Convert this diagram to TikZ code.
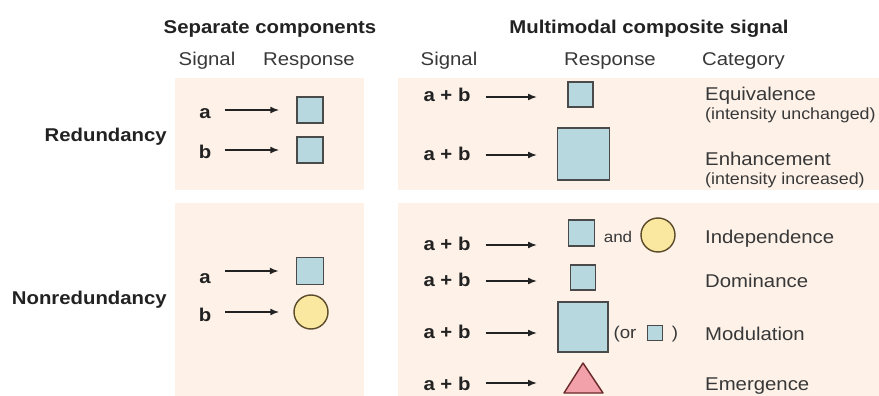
\documentclass[tikz,border=0pt]{standalone}
\usepackage{fontspec}
\setmainfont{Liberation Sans}[FakeStretch=1.1]
\usetikzlibrary{arrows.meta}
\definecolor{panel}{HTML}{FDF1E8}
\definecolor{sqfill}{HTML}{B8D8E0}
\definecolor{sqline}{HTML}{4A4A4A}
\definecolor{cfill}{HTML}{FBE8A0}
\definecolor{cline}{HTML}{5A4A2A}
\definecolor{tfill}{HTML}{F2A0AA}
\definecolor{tline}{HTML}{6A2A2A}
\definecolor{ink}{HTML}{222222}
\tikzset{
  panelbox/.style={fill=panel, draw=none},
  head/.style={font=\fontsize{18.5}{20}\selectfont\bfseries, text=ink, inner sep=0pt, anchor=base},
  colhead/.style={font=\fontsize{18.5}{20}\selectfont, text=ink!90, inner sep=0pt, anchor=base},
  rowlab/.style={font=\fontsize{18.5}{20}\selectfont\bfseries, text=ink, inner sep=0pt, anchor=base east},
  sig/.style={font=\fontsize{18.5}{20}\selectfont\bfseries, text=ink, inner sep=0pt, anchor=base},
  cat/.style={font=\fontsize{18.5}{20}\selectfont, text=ink!90, inner sep=0pt, anchor=base west},
  catsub/.style={font=\fontsize{16.2}{18}\selectfont, text=ink!90, inner sep=0pt, anchor=base west},
  small/.style={font=\fontsize{15.5}{17}\selectfont, text=ink!90, inner sep=0pt, anchor=base},
  sq/.style={draw=sqline, fill=sqfill, line width=1.4pt, inner sep=0pt, rectangle},
  circ/.style={draw=cline, fill=cfill, line width=1.4pt, inner sep=0pt, circle},
  tri/.style={draw=tline, fill=tfill, line width=1.4pt, line join=round},
  arr/.style={draw=ink, line width=1.6pt, -{Latex[length=9pt,width=7pt]}},
}
\begin{document}
\begin{tikzpicture}[x=1pt,y=-1pt]
\useasboundingbox (0,0) rectangle (879,396);
\fill[white] (0,0) rectangle (879,396);
% panels
\path[panelbox] (175,78) rectangle (364,190);
\path[panelbox] (175,203) rectangle (364,396);
\path[panelbox] (398,78) rectangle (879,190);
\path[panelbox] (398,203) rectangle (879,396);
% headings
\node[head] (hsep) at (270,34) {Separate components};
\node[head] (hmul) at (649,34) {Multimodal composite signal};
\node[colhead] (hsig1) at (207,66) {Signal};
\node[colhead] (hres1) at (309,66) {Response};
\node[colhead] (hsig2) at (449,66) {Signal};
\node[colhead] (hres2) at (610,66) {Response};
\node[colhead, anchor=base west] (hcat) at (702,66) {Category};
% row labels
\node[rowlab] (red) at (167,142) {Redundancy};
\node[rowlab] (nonred) at (167,304) {Nonredundancy};
% left panel, redundancy
\node[sig] (la1) at (205,118) {a};
\node[sig] (lb1) at (205,158) {b};
\node[sq, minimum size=26pt] (ls1) at (310,110) {};
\node[sq, minimum size=26pt] (ls2) at (310,150) {};
\draw[arr, shorten <=14pt, shorten >=17pt] (la1.east |- ls1.west) -- (ls1.west);
\draw[arr, shorten <=14pt, shorten >=17pt] (lb1.east |- ls2.west) -- (ls2.west);
% left panel, nonredundancy
\node[sig] (la2) at (205,283) {a};
\node[sig] (lb2) at (205,321) {b};
\node[sq, minimum size=27pt] (ls3) at (310,271) {};
\node[circ, minimum size=34pt] (lc1) at (311,312) {};
\draw[arr, shorten <=14pt, shorten >=17pt] (la2.east |- ls3.west) -- (ls3.west);
\draw[arr, shorten <=14pt, shorten >=14pt] (lb2.east |- lc1.west) -- (lc1.west);
% right top panel
\node[sig] (ab1) at (447,102) {a + b};
\node[sig] (ab2) at (447,160) {a + b};
\node[sq, minimum size=25pt] (rs1) at (580.5,94.5) {};
\node[sq, minimum size=52pt] (rs2) at (583.5,154) {};
\coordinate (e1) at (537,97);
\coordinate (e2) at (537,155);
\draw[arr, shorten <=15pt] (ab1.east |- e1) -- (e1);
\draw[arr, shorten <=15pt] (ab2.east |- e2) -- (e2);
\node[cat] (c1) at (705,101) {Equivalence};
\node[catsub] (c1s) at (705,119) {(intensity unchanged)};
\node[cat] (c2) at (705,165) {Enhancement};
\node[catsub] (c2s) at (705,184) {(intensity increased)};
% right bottom panel
\node[sig] (ab3) at (447,250) {a + b};
\node[sig] (ab4) at (447,286) {a + b};
\node[sig] (ab5) at (447,338) {a + b};
\node[sig] (ab6) at (447,390) {a + b};
\coordinate (e3) at (537,245);
\coordinate (e4) at (537,281);
\coordinate (e5) at (537,333);
\coordinate (e6) at (537,383);
\draw[arr, shorten <=15pt] (ab3.east |- e3) -- (e3);
\draw[arr, shorten <=15pt] (ab4.east |- e4) -- (e4);
\draw[arr, shorten <=15pt] (ab5.east |- e5) -- (e5);
\draw[arr, shorten <=15pt] (ab6.east |- e6) -- (e6);
% independence
\node[sq, minimum size=26pt] (rs3) at (581.5,233) {};
\node[small] (and) at (618,242) {and};
\node[circ, minimum size=34pt] (rc3) at (658,235) {};
% dominance
\node[sq, minimum size=25pt] (rs4) at (583,277.5) {};
% modulation
\node[sq, minimum size=50pt] (rs5) at (583,327) {};
\node[small, font=\fontsize{17}{19}\selectfont] (or) at (625,338) {(or};
\node[sq, minimum size=15pt, line width=1.2pt] (rs5b) at (655,333) {};
\node[small, font=\fontsize{17}{19}\selectfont] (cp) at (675,338) {)};
% emergence
\draw[tri] (583,363) -- (603,393) -- (564,393) -- cycle;
\node[cat] (c3) at (705,243) {Independence};
\node[cat] (c4) at (705,287) {Dominance};
\node[cat] (c5) at (705,340) {Modulation};
\node[cat] (c6) at (705,390) {Emergence};
\end{tikzpicture}
\end{document}
